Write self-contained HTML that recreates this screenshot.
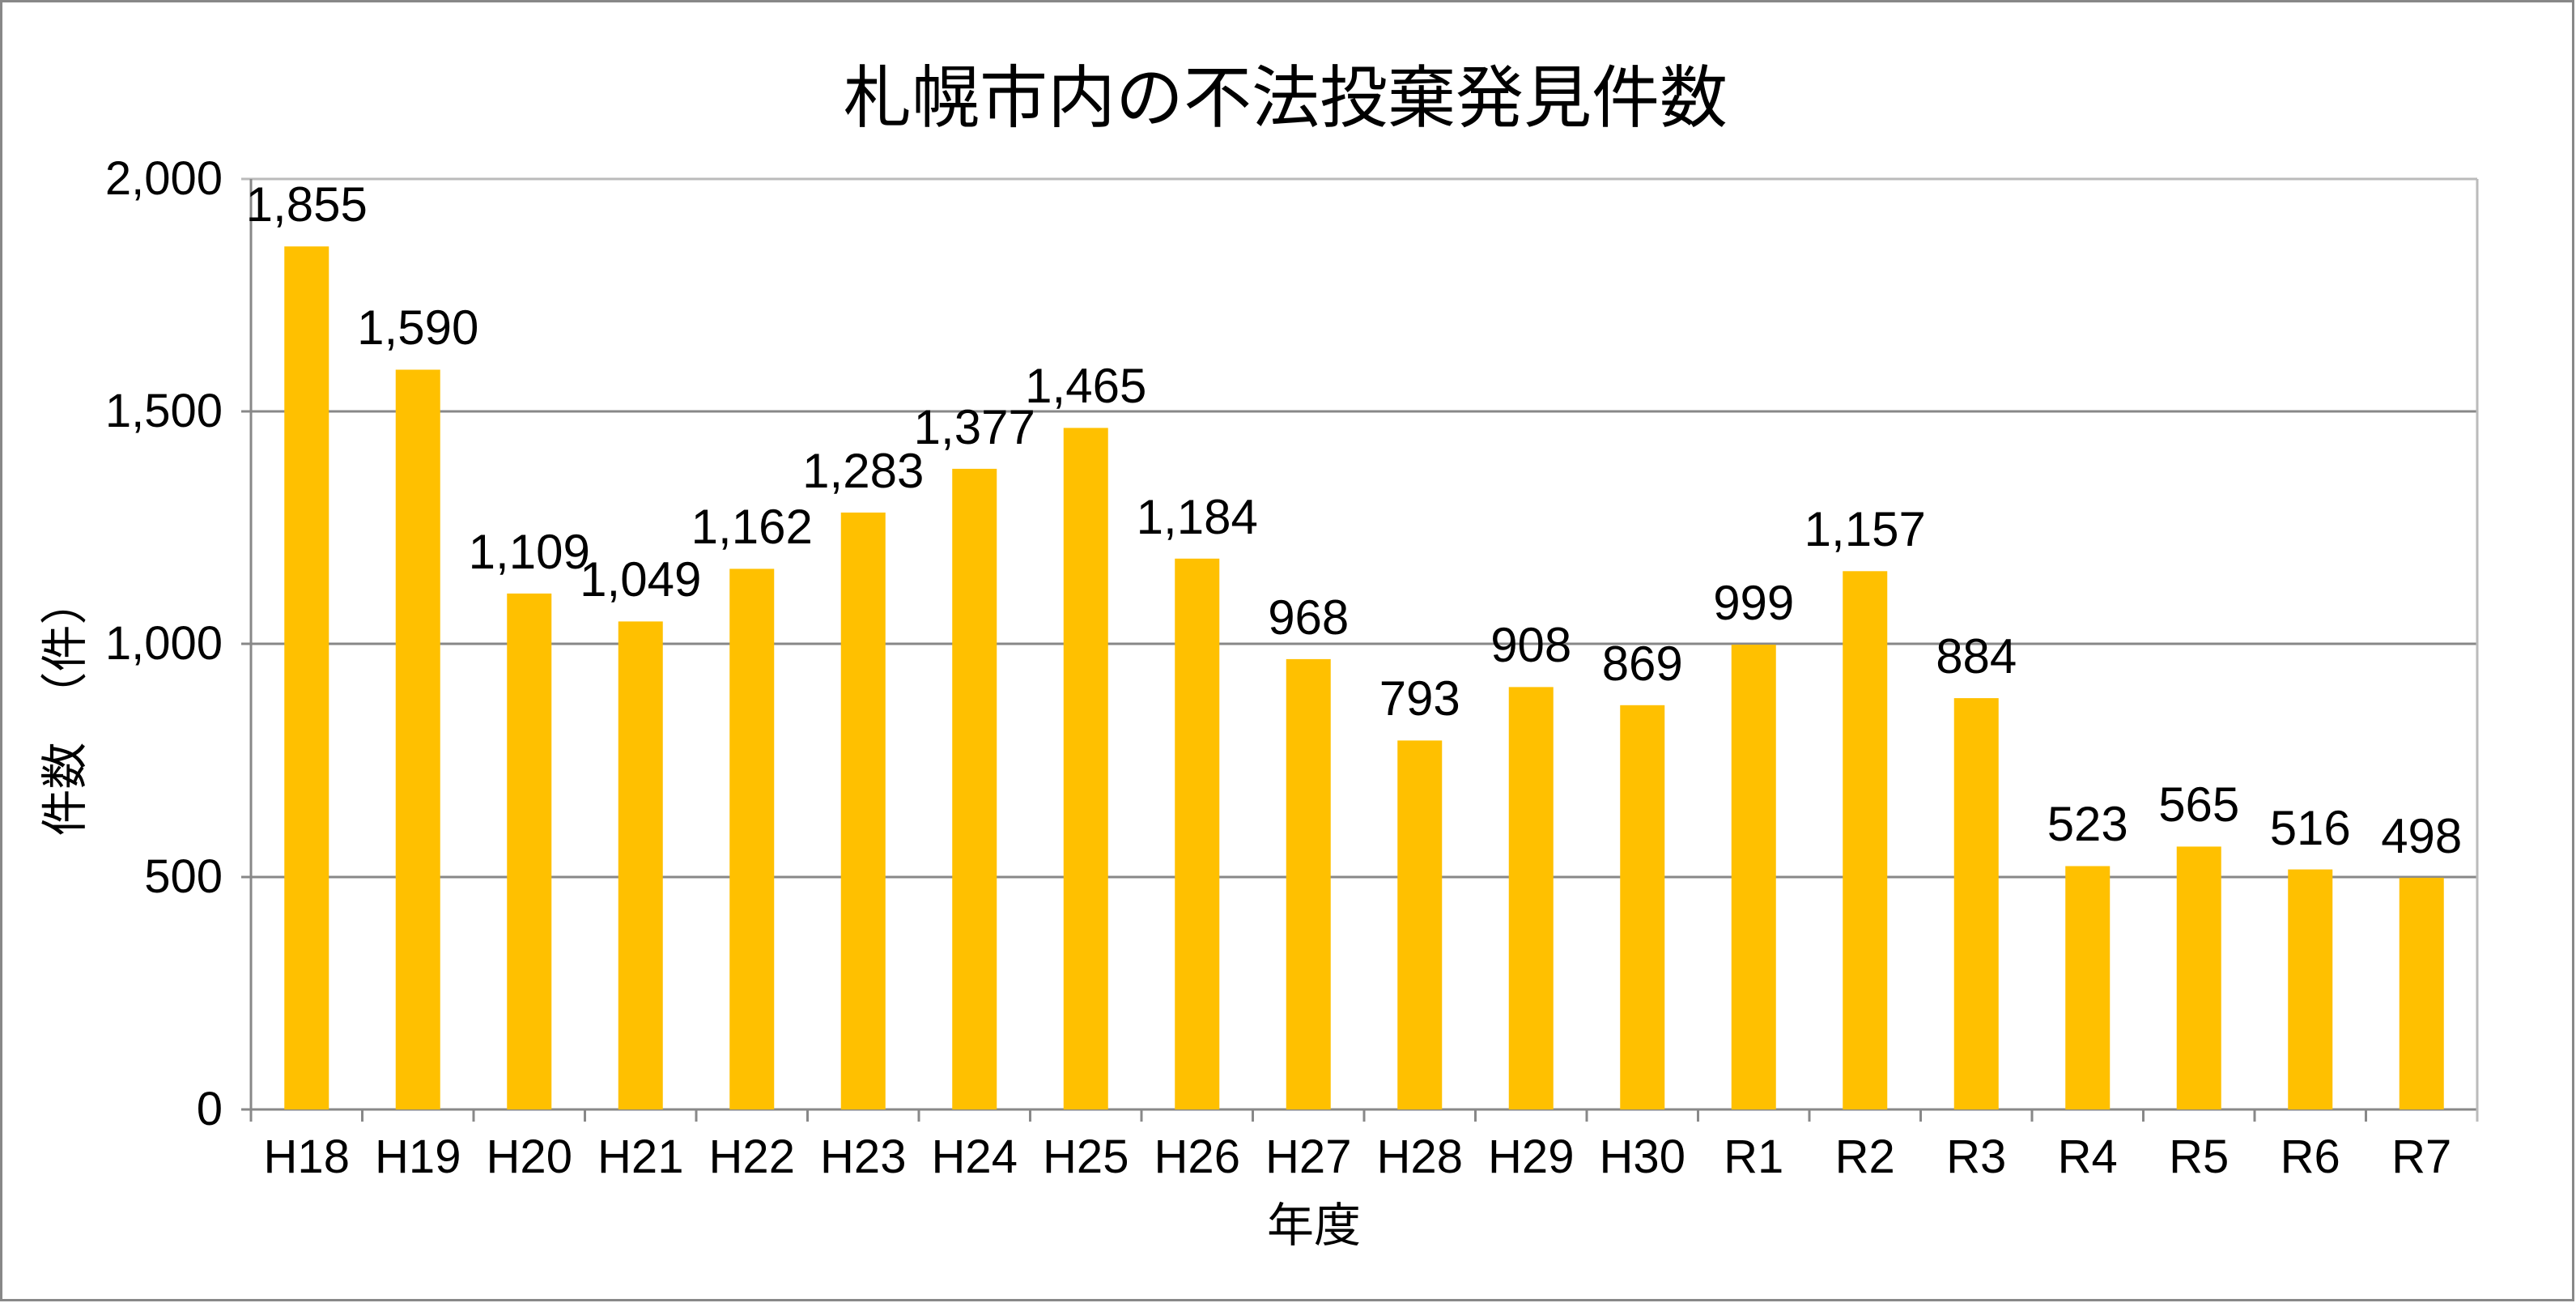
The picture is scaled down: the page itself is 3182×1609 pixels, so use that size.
<!DOCTYPE html>
<html><head><meta charset="utf-8"><style>html,body{margin:0;padding:0;background:#fff}svg{display:block}</style></head><body>
<svg width="3182" height="1609" viewBox="0 0 3182 1609" xmlns="http://www.w3.org/2000/svg" font-family="'Liberation Sans','Noto Sans CJK JP',sans-serif">
<rect x="1.5" y="1.5" width="3177" height="1604" fill="#fff" stroke="#888" stroke-width="3"/>
<text x="1588" y="150" font-size="84" text-anchor="middle" fill="#000">札幌市内の不法投棄発見件数</text>
<g stroke="#888" stroke-width="3">
<line x1="298" y1="221" x2="3060" y2="221" stroke="#bbb"/>
<line x1="298" y1="508" x2="3060" y2="508"/>
<line x1="298" y1="795" x2="3060" y2="795"/>
<line x1="298" y1="1083" x2="3060" y2="1083"/>
<line x1="298" y1="1370" x2="3060" y2="1370"/>
<line x1="310" y1="221" x2="310" y2="1385"/>
<line x1="3060" y1="221" x2="3060" y2="1385" stroke="#bbb"/>
<line x1="447.5" y1="1370" x2="447.5" y2="1385"/><line x1="585" y1="1370" x2="585" y2="1385"/><line x1="722.5" y1="1370" x2="722.5" y2="1385"/><line x1="860" y1="1370" x2="860" y2="1385"/><line x1="997.5" y1="1370" x2="997.5" y2="1385"/><line x1="1135" y1="1370" x2="1135" y2="1385"/><line x1="1272.5" y1="1370" x2="1272.5" y2="1385"/><line x1="1410" y1="1370" x2="1410" y2="1385"/><line x1="1547.5" y1="1370" x2="1547.5" y2="1385"/><line x1="1685" y1="1370" x2="1685" y2="1385"/><line x1="1822.5" y1="1370" x2="1822.5" y2="1385"/><line x1="1960" y1="1370" x2="1960" y2="1385"/><line x1="2097.5" y1="1370" x2="2097.5" y2="1385"/><line x1="2235" y1="1370" x2="2235" y2="1385"/><line x1="2372.5" y1="1370" x2="2372.5" y2="1385"/><line x1="2510" y1="1370" x2="2510" y2="1385"/><line x1="2647.5" y1="1370" x2="2647.5" y2="1385"/><line x1="2785" y1="1370" x2="2785" y2="1385"/><line x1="2922.5" y1="1370" x2="2922.5" y2="1385"/>
</g>
<g font-size="58" text-anchor="end" fill="#000">
<text x="275" y="240">2,000</text><text x="275" y="527">1,500</text><text x="275" y="814">1,000</text><text x="275" y="1102">500</text><text x="275" y="1389">0</text>
</g>
<g fill="#FFC000">
<rect x="351.25" y="304.3" width="55" height="1065.7"/>
<rect x="488.75" y="456.5" width="55" height="913.5"/>
<rect x="626.25" y="732.9" width="55" height="637.1"/>
<rect x="763.75" y="767.4" width="55" height="602.6"/>
<rect x="901.25" y="702.4" width="55" height="667.6"/>
<rect x="1038.75" y="632.9" width="55" height="737.1"/>
<rect x="1176.25" y="578.9" width="55" height="791.1"/>
<rect x="1313.75" y="528.4" width="55" height="841.6"/>
<rect x="1451.25" y="689.8" width="55" height="680.2"/>
<rect x="1588.75" y="813.9" width="55" height="556.1"/>
<rect x="1726.25" y="914.4" width="55" height="455.6"/>
<rect x="1863.75" y="848.4" width="55" height="521.6"/>
<rect x="2001.25" y="870.8" width="55" height="499.2"/>
<rect x="2138.75" y="796.1" width="55" height="573.9"/>
<rect x="2276.25" y="705.3" width="55" height="664.7"/>
<rect x="2413.75" y="862.1" width="55" height="507.9"/>
<rect x="2551.25" y="1069.5" width="55" height="300.5"/>
<rect x="2688.75" y="1045.4" width="55" height="324.6"/>
<rect x="2826.25" y="1073.6" width="55" height="296.4"/>
<rect x="2963.75" y="1083.9" width="55" height="286.1"/>
</g>
<g font-size="60" text-anchor="middle" fill="#000">
<text x="378.75" y="273">1,855</text>
<text x="516.25" y="425">1,590</text>
<text x="653.75" y="702">1,109</text>
<text x="791.25" y="736">1,049</text>
<text x="928.75" y="671">1,162</text>
<text x="1066.25" y="602">1,283</text>
<text x="1203.75" y="548">1,377</text>
<text x="1341.25" y="497">1,465</text>
<text x="1478.75" y="659">1,184</text>
<text x="1616.25" y="783">968</text>
<text x="1753.75" y="883">793</text>
<text x="1891.25" y="817">908</text>
<text x="2028.75" y="840">869</text>
<text x="2166.25" y="765">999</text>
<text x="2303.75" y="674">1,157</text>
<text x="2441.25" y="831">884</text>
<text x="2578.75" y="1038">523</text>
<text x="2716.25" y="1014">565</text>
<text x="2853.75" y="1043">516</text>
<text x="2991.25" y="1053">498</text>
</g>
<g font-size="58" text-anchor="middle" fill="#000">
<text x="378.75" y="1448">H18</text><text x="516.25" y="1448">H19</text><text x="653.75" y="1448">H20</text><text x="791.25" y="1448">H21</text><text x="928.75" y="1448">H22</text><text x="1066.25" y="1448">H23</text><text x="1203.75" y="1448">H24</text><text x="1341.25" y="1448">H25</text><text x="1478.75" y="1448">H26</text><text x="1616.25" y="1448">H27</text><text x="1753.75" y="1448">H28</text><text x="1891.25" y="1448">H29</text><text x="2028.75" y="1448">H30</text><text x="2166.25" y="1448">R1</text><text x="2303.75" y="1448">R2</text><text x="2441.25" y="1448">R3</text><text x="2578.75" y="1448">R4</text><text x="2716.25" y="1448">R5</text><text x="2853.75" y="1448">R6</text><text x="2991.25" y="1448">R7</text>
</g>
<text x="1623" y="1533" font-size="58" text-anchor="middle">年度</text>
<text transform="translate(100,873) rotate(-90)" font-size="58" text-anchor="middle">件数　（件）</text>
</svg>
</body></html>
